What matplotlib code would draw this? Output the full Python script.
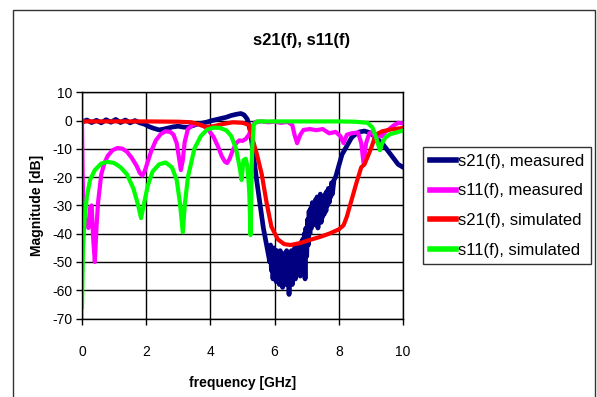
import matplotlib
matplotlib.use("Agg")
import matplotlib.pyplot as plt
from matplotlib.patches import Rectangle

plt.rcParams["font.family"] = ["Liberation Sans", "DejaVu Sans"]
plt.rcParams["axes.unicode_minus"] = False

# ── Data ────────────────────────────────────────────────────────────────────────
s21_meas_f = [0, 0.15, 0.3, 0.45, 0.6, 0.75, 0.9, 1.05, 1.2, 1.35, 1.5, 1.65, 1.8, 1.95,
              2.1, 2.25, 2.4, 2.55, 2.7, 2.85, 3.0, 3.15, 3.3, 3.45, 3.6, 3.75, 3.9, 4.05,
              4.2, 4.35, 4.5, 4.65, 4.8, 4.95, 5.05, 5.15, 5.25, 5.34, 5.44, 5.55, 5.65,
              5.75, 5.85, 5.875, 5.9, 5.925, 5.95, 5.975, 6.0, 6.025, 6.05, 6.075, 6.1,
              6.125, 6.15, 6.175, 6.2, 6.225, 6.25, 6.275, 6.3, 6.325, 6.35, 6.375, 6.4,
              6.425, 6.45, 6.475, 6.5, 6.525, 6.55, 6.575, 6.6, 6.625, 6.65, 6.675, 6.7,
              6.725, 6.75, 6.775, 6.8, 6.825, 6.85, 6.875, 6.9, 6.925, 6.95, 6.975, 7.0,
              7.025, 7.05, 7.075, 7.1, 7.125, 7.15, 7.175, 7.2, 7.225, 7.25, 7.275, 7.3,
              7.325, 7.35, 7.375, 7.4, 7.425, 7.45, 7.475, 7.5, 7.525, 7.55, 7.575, 7.6,
              7.625, 7.65, 7.675, 7.7, 7.725, 7.75, 7.775, 7.8, 7.85, 7.9, 8.0, 8.1, 8.2,
              8.3, 8.4, 8.5, 8.65, 8.8, 8.95, 9.1, 9.25, 9.35, 9.45, 9.55, 9.65, 9.75,
              9.85, 10]
s21_meas_db = [-0.6, 0.2, -0.7, 0.1, -0.8, 0.3, -0.6, 0.4, -0.7, 0.2, -0.8, 0.0, -0.8, -1.3,
               -2.2, -2.8, -3.3, -3.0, -2.6, -2.2, -2.0, -2.3, -2.4, -1.8, -1.2, -0.9, -0.5, 0.0,
               0.4, 0.8, 1.2, 1.8, 2.2, 2.5, 2.0, 0.5, -4, -12, -21, -30, -38,
               -44, -50, -44, -53, -46, -56, -45, -55, -47, -57, -46, -54,
               -48, -58, -46, -55, -49, -59, -47, -56, -48, -58, -46, -57,
               -50, -61.5, -48, -57, -46, -58, -47, -55, -45, -56, -46, -54,
               -44, -52, -45, -55, -43, -51, -42, -53, -40, -56, -38, -48,
               -35, -44, -32, -40, -31, -38, -29, -37, -30, -36, -28, -35,
               -27, -38, -28, -33, -26, -36, -28, -34, -27, -33, -26, -32,
               -25, -30, -24, -29, -24, -27, -22, -26, -21, -20, -16, -12, -10,
               -8, -6, -5, -4, -3.7, -4.2, -5.5, -7, -8, -9.5, -11, -12.5, -14,
               -15.5, -16.5]

s11_meas_f = [0, 0.02, 0.05, 0.12, 0.2, 0.25, 0.3, 0.35, 0.4, 0.45, 0.5, 0.6, 0.7, 0.8,
              0.95, 1.1, 1.25, 1.4, 1.55, 1.7, 1.8, 1.88, 1.95, 2.05, 2.15, 2.3, 2.45, 2.6,
              2.75, 2.85, 2.95, 3.02, 3.08, 3.14, 3.2, 3.3, 3.45, 3.6, 3.8, 3.95, 4.1, 4.25,
              4.35, 4.45, 4.52, 4.6, 4.7, 4.8, 4.9, 5.0, 5.1, 5.2, 5.3, 5.4, 5.6, 5.8, 6.0,
              6.2, 6.4, 6.55, 6.62, 6.7, 6.8, 6.9, 7.1, 7.3, 7.5, 7.7, 7.9, 8.05, 8.15, 8.25,
              8.4, 8.6, 8.7, 8.77, 8.85, 8.95, 9.05, 9.15, 9.25, 9.35, 9.45, 9.55, 9.7, 9.85, 10]
s11_meas_db = [0, -20, -33, -36, -38, -31, -30, -42, -50, -38, -29, -19, -15, -12.5,
               -10.5, -9.7, -9.9, -11, -13.2, -16, -18.5, -19.5, -18, -14.5, -11, -7, -4.8, -3.8,
               -4, -5, -8, -13, -17.5, -14, -7.5, -3, -1.5, -1.2, -2, -3.5, -5.8, -9.5,
               -12.5, -14.5, -15, -13.5, -10.5, -8, -7, -7.2, -6.5, -5, -2, -0.5, -0.3, -0.6, -0.4,
               -0.8, -0.5, -1.5, -5, -8, -5, -3.3, -3, -3.4, -3, -4.5, -4, -5.5, -8, -5,
               -4.5, -4.2, -8, -15, -8, -4.5, -4, -7.3, -5, -5.6, -4, -3.2, -1.8, -0.8, -1]

s21_sim_f = [0, 1, 2, 3, 3.4, 3.6, 3.85, 4.1, 4.4, 4.7, 5.0, 5.2, 5.3, 5.45, 5.6, 5.75,
             5.9, 6.1, 6.3, 6.5, 6.8, 7.1, 7.4, 7.7, 8.0, 8.15, 8.25, 8.4, 8.55, 8.7, 8.8,
             9.0, 9.15, 9.35, 9.6, 10]
s21_sim_db = [-0.3, -0.3, -0.3, -0.4, -0.6, -1.2, -2.2, -2.0, -1.2, -0.6, -0.8, -1.5, -6,
              -12, -19, -29, -37.5, -42, -43.7, -44, -43.3, -42.2, -41.2, -40, -38.5, -37,
              -34, -28, -22, -16.5, -15.5, -10, -5, -3.8, -3.2, -2.6]

s11_sim_f = [0, 0.03, 0.08, 0.15, 0.25, 0.4, 0.6, 0.8, 1.0, 1.2, 1.4, 1.6, 1.75, 1.84, 1.92,
             2.05, 2.2, 2.4, 2.6, 2.8, 2.95, 3.05, 3.14, 3.2, 3.3, 3.5, 3.7, 3.9, 4.1, 4.3,
             4.5, 4.65, 4.8, 4.92, 4.97, 5.03, 5.1, 5.15, 5.21, 5.25, 5.3, 5.35, 5.45, 5.6,
             6, 7, 8, 8.5, 8.9, 9.05, 9.15, 9.28, 9.35, 9.45, 9.6, 9.8, 10]
s11_sim_db = [-66, -45, -35, -27, -21, -17.5, -15.2, -14.6, -15, -16.5, -19, -24, -30, -34.5,
              -30, -23, -18, -15.5, -14.8, -16.5, -21, -29, -39.5, -30, -20, -10, -5.5, -3.2,
              -2.5, -2.6, -3.5, -5.5, -10, -17, -21, -14, -13.5, -16, -25, -40.5, -10, -1.5,
              -0.3, -0.3, -0.3, -0.3, -0.3, -0.4, -0.8, -2.5, -5.5, -10.5, -8, -6, -4.8, -4.2, -3.5]

series = [
    ("s21(f), measured", s21_meas_f, s21_meas_db, "#000080", 3.4),
    ("s11(f), measured", s11_meas_f, s11_meas_db, "#FF00FF", 3.0),
    ("s21(f), simulated", s21_sim_f, s21_sim_db, "#FF0000", 3.0),
    ("s11(f), simulated", s11_sim_f, s11_sim_db, "#00FF00", 3.0),
]

# ── Figure ──────────────────────────────────────────────────────────────────────
W, H = 597, 397
fig = plt.figure(figsize=(W / 100, H / 100), dpi=100)
fig.patch.set_facecolor("white")

# outer chart frame (open at the bottom, like the cropped original)
fig.patches.append(Rectangle((13 / W, -0.05), (595 - 13) / W, 1.05 - 9.5 / H,
                             transform=fig.transFigure, fill=False,
                             edgecolor="#333333", linewidth=1.0))

ax = fig.add_axes([82 / W, 1 - 318.5 / H, (403 - 82) / W, (318.5 - 92.3) / H])

for label, f, db, color, lw in series:
    ax.plot(f, db, color=color, linewidth=lw, label=label, solid_joinstyle="round")

ax.set_xlim(0, 10)
ax.set_ylim(-70, 10)
ax.set_xticks(range(0, 11, 2))
ax.set_yticks(range(-70, 11, 10))
ax.grid(True, color="black", linewidth=1.0)
ax.set_axisbelow(True)
for sp in ax.spines.values():
    sp.set_color("black")
    sp.set_linewidth(1.0)
ax.tick_params(direction="out", length=4, width=1, labelsize=10, pad=3)
ax.tick_params(axis="x", pad=15)

ax.set_xlabel("frequency [GHz]", fontsize=10, fontweight="bold", labelpad=12)
ax.set_ylabel("Magnitude [dB]", fontsize=10, fontweight="bold", labelpad=6)
fig.text(302 / W, 1 - 40 / H, "s21(f), s11(f)", ha="center", va="center",
         fontsize=12, fontweight="bold")

leg = fig.legend(loc="upper left", bbox_to_anchor=(423 / W, 1 - 147 / H),
                 fontsize=12, frameon=True, fancybox=False, borderaxespad=0,
                 handlelength=1.6, handletextpad=0.1, labelspacing=0.88,
                 borderpad=0.4)
leg.get_frame().set_edgecolor("black")
leg.get_frame().set_linewidth(1.0)
for ln in leg.get_lines():
    ln.set_linewidth(4.0)

fig.savefig("out.png", dpi=100)
